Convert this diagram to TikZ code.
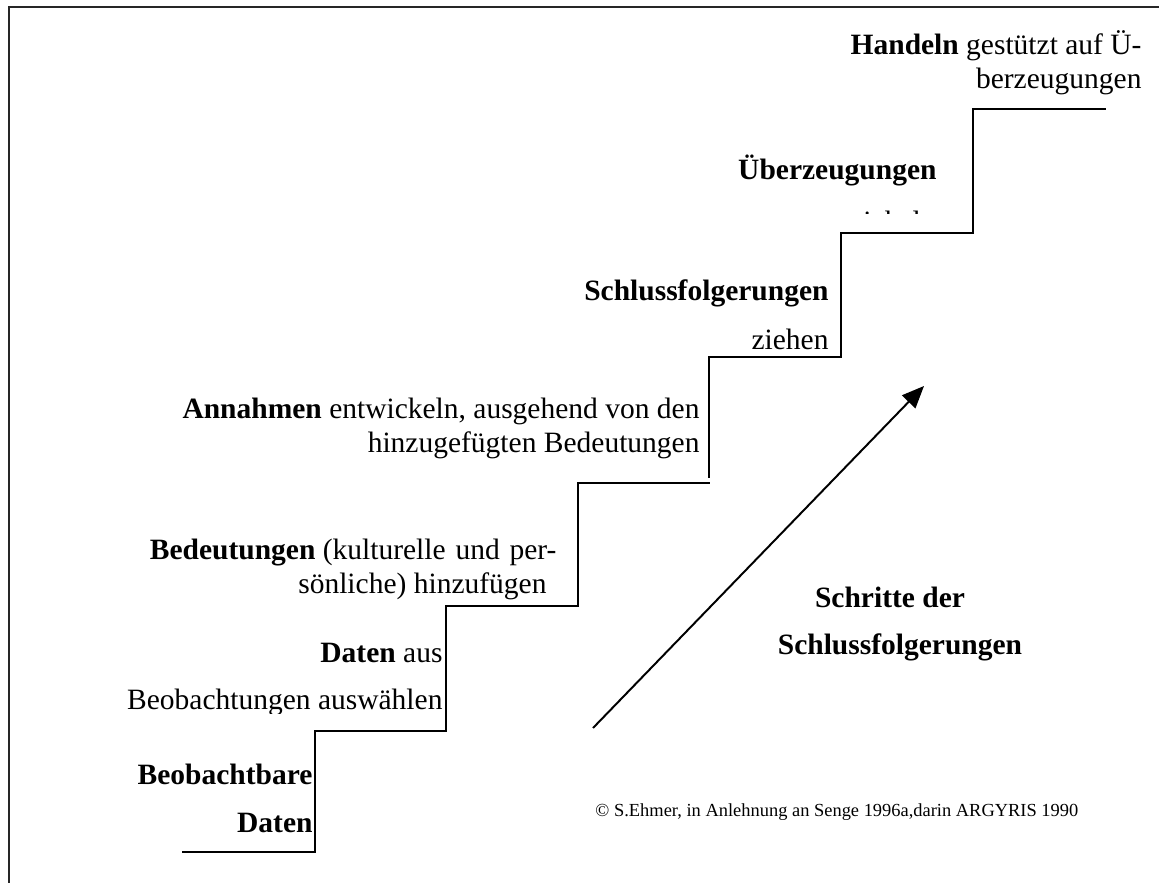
\documentclass[tikz,border=0pt]{standalone}
\usepackage{fontspec}
\setmainfont{Liberation Serif}
\usetikzlibrary{arrows.meta}
\begin{document}
\begin{tikzpicture}[x=0.4068pt,y=-0.4068pt,
  stair/.style={line width=0.8pt,line cap=rect},
  frameline/.style={line width=0.9pt,draw=black!85},
  lbl/.style={inner sep=0pt,anchor=base east,font=\fontsize{12}{14}\selectfont},
  ctr/.style={inner sep=0pt,anchor=base,font=\fontsize{12}{14}\selectfont\bfseries},
  note/.style={inner sep=0pt,anchor=base west,font=\fontsize{7.5}{9}\selectfont},
  climb/.style={line width=0.8pt,-{Triangle[length=9pt,width=7.5pt]}}]
\useasboundingbox (0,0) rectangle (1159,883);

% frame (top and left edges)
\draw[frameline] (9,883) -- (9,7) -- (1159,7);

% staircase
\draw[stair] (183,852) -- (315,852) -- (315,731) -- (446,731) -- (446,606)
  -- (578,606) -- (578,483) -- (709,483);
\draw[stair] (709,477) -- (709,357) -- (841,357) -- (841,233) -- (973,233)
  -- (973,109) -- (1105,109);

% step labels
\node[lbl] (hand1) at (1142,55) {\textbf{Handeln} gestützt auf Ü-};
\node[lbl] (hand2) at (1142,89) {berzeugungen};
\node[lbl] (ueb) at (937,180) {\textbf{Überzeugungen}};
\begin{scope}
  \clip (700,150) rectangle (960,214);
  \node[lbl] (ent) at (936,232) {entwickeln};
\end{scope}
\node[lbl] (sch1) at (829,301) {\textbf{Schlussfolgerungen}};
\node[lbl] (sch2) at (829,350) {ziehen};
\node[lbl] (ann1) at (700,419) {\textbf{Annahmen} entwickeln, ausgehend von den};
\node[lbl] (ann2) at (700,453) {hinzugefügten Bedeutungen};
\node[lbl] (bed1) at (557,559) {\textbf{Bedeutungen} (kulturelle\hspace{1pt} und\hspace{1pt} per-};
\node[lbl] (bed2) at (547,593) {sönliche) hinzufügen};
\node[lbl] (dat1) at (443,662) {\textbf{Daten} aus};
\begin{scope}
  \clip (100,680) rectangle (450,713);
  \node[lbl] (dat2) at (443,709) {Beobachtungen auswählen};
\end{scope}
\node[lbl] (beo1) at (313,784) {\textbf{Beobachtbare}};
\node[lbl] (beo2) at (313,832) {\textbf{Daten}};

% rising arrow and its caption
\coordinate (a0) at (593,728);
\coordinate (a1) at (924,386);
\draw[climb] (a0) -- (a1);
\node[ctr] (sd1) at (890,607) {Schritte der};
\node[ctr] (sd2) at (900,654) {Schlussfolgerungen};

\node[note] (copy) at (595,816) {© S.Ehmer, in Anlehnung an Senge 1996a,darin ARGYRIS 1990};
\end{tikzpicture}
\end{document}
